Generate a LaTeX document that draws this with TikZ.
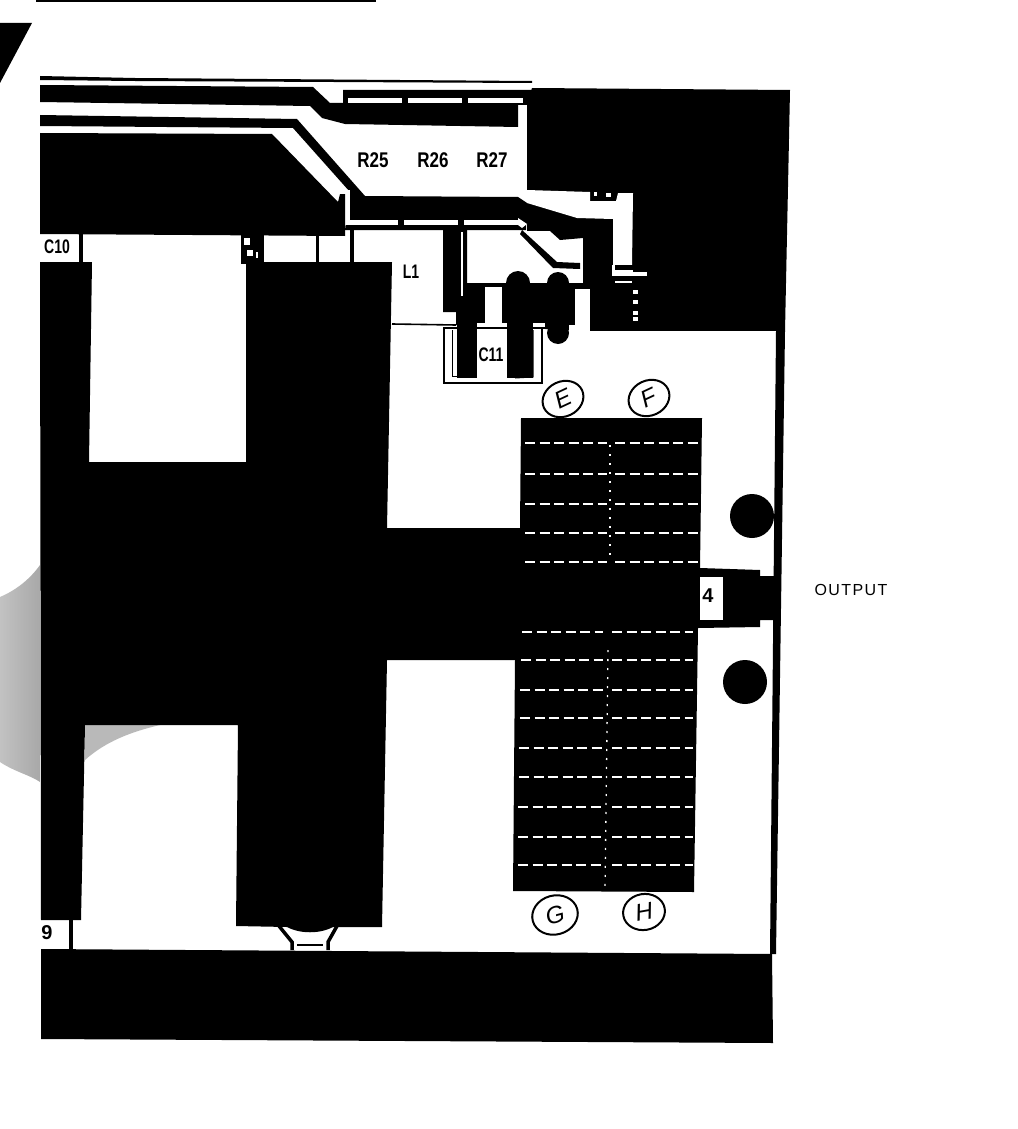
\documentclass[tikz,border=0pt]{standalone}
\usepackage{fontspec}
\setmainfont{Liberation Sans}
\usetikzlibrary{shapes.geometric}
\tikzset{
  ink/.style={fill=black,draw=none},
  gap/.style={fill=white,draw=none},
  wire/.style={draw=black,line width=1.6pt},
  slit/.style={draw=white,line width=2pt},
  dashrow/.style={draw=white,line width=2.4pt,dash pattern=on 10pt off 4.5pt},
  dotrow/.style={draw=white,line width=1.3pt,dash pattern=on 2pt off 7pt},
  part/.style={font=\bfseries\fontsize{17}{17}\selectfont,inner sep=0pt,yscale=1.25,transform shape},
  small/.style={font=\bfseries\fontsize{14}{14}\selectfont,inner sep=0pt,yscale=1.4,transform shape},
  blob/.style={font=\bfseries\fontsize{20}{20}\selectfont,inner sep=0pt},
  ring/.style={draw=black,line width=2pt,ellipse,inner sep=0pt,minimum width=42pt,minimum height=35pt,
    font=\itshape\fontsize{24}{24}\selectfont}
}
\begin{document}
\begin{tikzpicture}[x=1pt,y=-1pt]
\path[use as bounding box,fill=white] (0,0) rectangle (1017,1129);
% soft shadow
\shade[left color=gray!48,right color=gray!68] (40,565) .. controls (28,582) and (12,592) .. (0,597) -- (0,762) .. controls (15,772) and (30,775) .. (40,782) -- cycle;
\fill[gray!55] (85,725) -- (160,725) .. controls (130,732) and (105,742) .. (85,760) -- cycle;
% top rule and corner
\fill[ink] (36,0) rectangle (376,2);
\fill[ink] (0,23) -- (32,23) -- (0,83) -- cycle;
% right copper block
\fill[ink] (532,88) -- (790,90) -- (785,331) -- (590,331) -- (590,283) -- (527,283) -- (527,105) -- cycle;
% white area left of the block
\fill[gap] (518,103) -- (527,103) -- (527,197) -- (518,197) -- cycle;
\fill[gap] (466,231) rectangle (590,283);
% top traces
\fill[ink] (40,76) -- (135,78) -- (532,81) -- (532,83) -- (135,81) -- (40,80) -- cycle;
\fill[ink] (40,85) -- (313,87) -- (330,103) -- (343,103) -- (343,90) -- (532,90) -- (531,105) -- (518,105) -- (518,127) -- (345,124) -- (322,118) -- (310,106) -- (40,102) -- cycle;
\foreach \a/\b in {348/402,408/462,468/523}{\fill[gap] (\a,98) rectangle (\b,103);}
\fill[ink] (40,115) -- (297,119) -- (365,196) -- (518,197) -- (527,203) -- (577,218) -- (613,219) -- (613,285) -- (583,285) -- (583,238) -- (560,240) -- (550,231) -- (526,224) -- (526,230) -- (345,230) -- (350,192) -- (293,128) -- (40,126) -- cycle;
% white pocket in block
\fill[gap] (527,190) -- (590,192) -- (590,201) -- (616,201) -- (618,193) -- (633,193) -- (632,265) -- (613,265) -- (613,219) -- (577,218) -- (527,203) -- cycle;
\fill[gap] (612,265) rectangle (633,272);
\fill[gap] (612,272) rectangle (647,276);
\fill[ink] (615,265) rectangle (633,270);
\fill[gap] (594,192) rectangle (597,196);
\fill[gap] (606,193) rectangle (611,197);
\draw[slit,line width=1.2pt] (615,282) -- (632,282);
\foreach \y in {290,300,311,317}{\fill[gap] (633,\y) rectangle (638,\y+4);}
% outline under the resistor bar
\foreach \a/\b in {345/398,404/458,464/518}{\fill[gap] (\a,220) rectangle (\b,225);}
\fill[gap] (345,190) rectangle (350,225);
\fill[gap] (518,218) -- (527,224) -- (522,228) -- (518,225) -- cycle;
% upper left block
\fill[ink] (40,133) -- (272,134) -- (338,202) -- (340,194) -- (345,194) -- (345,236) -- (40,234) -- cycle;
% thin verticals
\fill[ink] (79,234) rectangle (83,262);
\fill[ink] (316,234) rectangle (319,262);
\fill[ink] (350,228) rectangle (354,262);
\fill[ink] (241,234) rectangle (264,264);
\fill[gap] (244,238) rectangle (250,245);
\fill[gap] (247,250) rectangle (253,256);
\fill[gap] (256,252) rectangle (258,258);
% inductor lead and band
\fill[ink] (443,228) -- (467,228) -- (467,283) -- (585,283) -- (590,283) -- (590,331) -- (456,325) -- (456,312) -- (443,312) -- cycle;
\fill[gap] (461,232) rectangle (463,296);
\fill[ink] (518,283) circle[radius=12];
\fill[ink] (558,283) circle[radius=11];
\fill[gap] (485,287) rectangle (502,323);
\fill[gap] (575,289) rectangle (590,325);
\fill[gap] (466,323) rectangle (545,327);
\fill[gap] (569,325) rectangle (785,337);
\fill[ink] (590,325) rectangle (785,331);
\fill[ink] (558,333) circle[radius=11];
\fill[ink] (522,230) -- (557,262) -- (580,263) -- (580,269) -- (553,268) -- (520,234) -- cycle;
\draw[wire] (392,324) -- (456,325);
% board edge
\fill[ink] (776,331) -- (785,331) -- (776,954) -- (770,954) -- cycle;
% C11 box
\draw[draw=black,line width=2pt,fill=white] (444,328) rectangle (542,383);
\draw[wire,line width=1pt] (452,330) -- (452,376) -- (458,376);
\draw[wire,line width=1pt] (533,330) -- (533,377) -- (515,378);
\fill[ink] (457,323) rectangle (477,378);
\fill[ink] (507,323) rectangle (533,378);
% main copper
\fill[ink] (40,262) -- (92,262) -- (89,462) -- (246,462) -- (246,262) -- (392,262) -- (387,528) -- (520,528) -- (521,418) -- (702,418) -- (700,568) -- (760,570) -- (760,576) -- (778,576) -- (778,620) -- (760,620) -- (760,627) -- (698,628) -- (694,892) -- (513,891) -- (515,660) -- (387,660) -- (382,927) -- (333,927) .. controls (320,934) and (300,934) .. (287,927) -- (236,926) -- (238,725) -- (85,725) -- (81,920) -- (41,920) -- cycle;
\fill[gap] (700,577) rectangle (723,620);
% comb slots
\foreach \y in {443,474,504,533,562}{
  \draw[dashrow] (525,\y) -- (607,\y);
  \draw[dashrow] (615,\y) -- (699,\y);}
\foreach \y/\l in {632/522,660/521,690/520,718/520,748/519,777/519,807/518,837/518,865/518}{
  \draw[dashrow] (\l,\y) -- (603,\y);
  \draw[dashrow] (612,\y) -- (693,\y);}
\draw[dotrow] (610,445) -- (610,560);
\draw[dotrow] (608,650) -- (605,890);
% mounting holes
\fill[ink] (752,516) circle[radius=22];
\fill[ink] (745,682) circle[radius=22];
% bottom ground plane
\fill[ink] (41,949) -- (772,954) -- (773,1043) -- (41,1039) -- cycle;
\fill[ink] (69,920) rectangle (73,950);
% arch at foot of column
\draw[black,line width=3.5pt] (279,926) -- (292,942) -- (292,950);
\draw[black,line width=3.5pt] (337,926) -- (328,942) -- (328,950);
\draw[black,line width=1.2pt] (297,945) -- (323,945);
% labels
\node[part] (r25) at (373,160) {R25};
\node[part] (r26) at (433,160) {R26};
\node[part] (r27) at (492,160) {R27};
\node[small] (l1) at (411,272) {L1};
\node[small] (c11) at (491,355) {C11};
\node[small] (c10) at (57,247) {C10};
\node[blob] (nine) at (47,933) {9};
\node[blob] (four) at (708,596) {4};
\node[inner sep=0pt,font=\fontsize{16}{16}\selectfont\addfontfeature{LetterSpace=9}] (out) at (851,590) {OUTPUT};
\node[ring,rotate=25] (e) at (563,399) {E};
\node[ring,rotate=25] (f) at (649,398) {F};
\node[ring,rotate=15,minimum width=46pt,minimum height=39pt] (g) at (555,915) {G};
\node[ring,rotate=10,minimum width=42pt,minimum height=36pt] (h) at (644,912) {H};
\end{tikzpicture}
\end{document}
